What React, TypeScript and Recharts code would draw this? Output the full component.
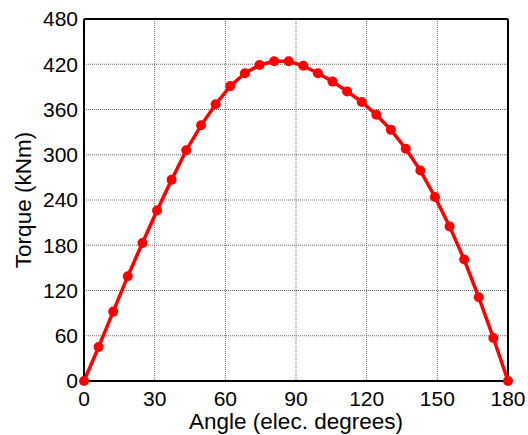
import React from "react";
import {
  LineChart,
  Line,
  XAxis,
  YAxis,
  CartesianGrid,
  ReferenceLine,
  Label,
} from "recharts";

const angles = [
  0, 6.2, 12.4, 18.6, 24.8, 31.0, 37.2, 43.4, 49.7, 55.9, 62.1, 68.3, 74.5,
  80.7, 86.9, 93.1, 99.3, 105.5, 111.7, 117.9, 124.1, 130.3, 136.6, 142.8,
  149.0, 155.2, 161.4, 167.6, 173.8, 180,
];

const torque = [
  0, 45, 92, 139, 183, 226, 267, 306, 339, 367, 391, 408, 419, 424, 424, 418,
  408, 397, 384, 370, 353, 333, 308, 279, 244, 205, 161, 111, 57, 0,
];

const xTicks = [0, 30, 60, 90, 120, 150, 180];
const yTicks = [0, 60, 120, 180, 240, 300, 360, 420, 480];

const data = angles.map((a, i) => ({ angle: a, torque: torque[i] }));

const font = "'Liberation Sans', Arial, sans-serif";

export default function App() {
  return (
    <div style={{ position: "absolute", left: 0, top: 0, background: "#fff" }}>
      <LineChart
        width={528}
        height={435}
        data={data}
        margin={{ top: 19, right: 20, left: 0, bottom: 0 }}
        style={{ fontFamily: font }}
      >
        <CartesianGrid
          stroke="#6a6a6a"
          strokeDasharray="1 1"
          horizontalValues={yTicks}
          verticalValues={xTicks}
        />
        <XAxis
          dataKey="angle"
          type="number"
          domain={[0, 180]}
          ticks={xTicks}
          height={54}
          tickLine={false}
          tickSize={0}
          tickMargin={10}
          axisLine={{ stroke: "#000", strokeWidth: 2 }}
          tick={{ fill: "#000", fontSize: 21 }}
        >
          <Label
            value="Angle (elec. degrees)"
            position="insideBottom"
            offset={6}
            style={{ fill: "#000", fontSize: 22.5 }}
          />
        </XAxis>
        <YAxis
          type="number"
          domain={[0, 480]}
          ticks={yTicks}
          width={84}
          tickLine={false}
          tickSize={0}
          tickMargin={6}
          axisLine={{ stroke: "#000", strokeWidth: 2 }}
          tick={{ fill: "#000", fontSize: 21 }}
        >
          <Label
            value="Torque (kNm)"
            angle={-90}
            position="insideLeft"
            offset={23}
            style={{ fill: "#000", fontSize: 22.5, textAnchor: "middle" }}
          />
        </YAxis>
        <ReferenceLine y={480} stroke="#000" strokeWidth={2} />
        <ReferenceLine x={180} stroke="#000" strokeWidth={2} />
        <Line
          type="linear"
          dataKey="torque"
          stroke="#ff0000"
          strokeWidth={3.5}
          dot={{ r: 5, fill: "#ff0000", stroke: "#ff0000", strokeWidth: 0 }}
          isAnimationActive={false}
        />
      </LineChart>
    </div>
  );
}
